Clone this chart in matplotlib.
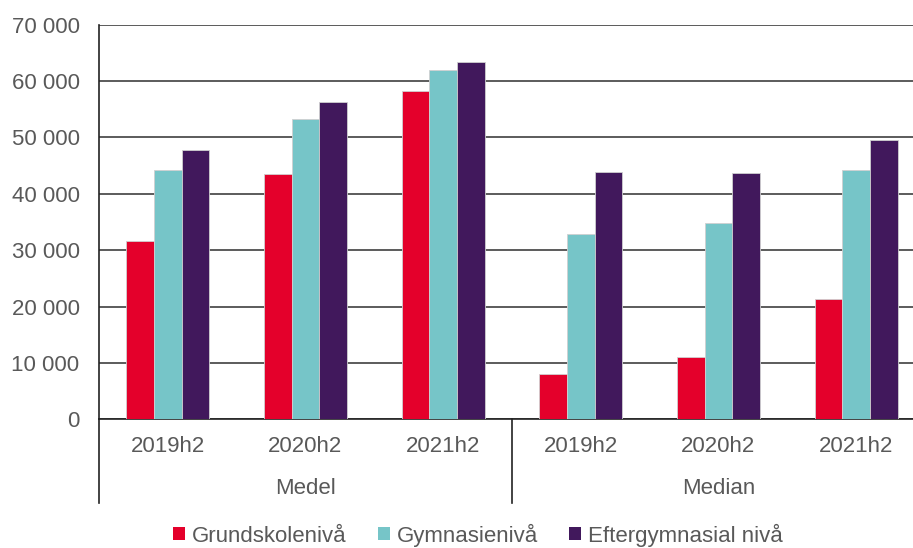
import matplotlib
matplotlib.use("Agg")
import matplotlib.pyplot as plt
import matplotlib.transforms as mtransforms
import numpy as np

plt.rcParams['font.family'] = ['Liberation Sans', 'DejaVu Sans']

periods = ["2019h2", "2020h2", "2021h2", "2019h2", "2020h2", "2021h2"]
groups = ["Medel", "Median"]
series = ["Grundskolenivå", "Gymnasienivå", "Eftergymnasial nivå"]
grund = [31700, 43500, 58300, 8000, 11000, 21400]
gymn = [44200, 53300, 61900, 32800, 34900, 44300]
efter = [47800, 56200, 63300, 43900, 43700, 49600]
colors = ["#E4002B", "#76C5C8", "#41185C"]
yticks = [0, 10000, 20000, 30000, 40000, 50000, 60000, 70000]

text_col = "#595959"
fs = 16

fig = plt.figure(figsize=(9.13, 5.48), dpi=100)
# plot area runs slightly past the right edge of the picture, like the original
ax = fig.add_axes([0.1084, 0.2349, 0.9047, 0.72])

x = np.arange(len(periods))
w = 0.201
for i, (vals, c, name) in enumerate(zip([grund, gymn, efter], colors, series)):
    ax.bar(x + (i - 1) * w, vals, width=w, color=c, edgecolor="#d0d0d0",
           linewidth=0.6, label=name, zorder=3)

ax.set_xlim(-0.5, len(periods) - 0.5)
ax.set_ylim(0, 70000)
ax.set_yticks(yticks)
ax.set_yticklabels([f"{v:,.0f}".replace(",", " ") for v in yticks])
ax.yaxis.grid(True, color="#404040", linewidth=1.2, zorder=0)
ax.set_axisbelow(True)
ax.tick_params(axis="y", length=0, pad=14, labelsize=fs, labelcolor=text_col)
ax.set_xticks([])

for s in ["top", "right"]:
    ax.spines[s].set_visible(False)
ax.spines["left"].set_color("#222222")
ax.spines["bottom"].set_color("#222222")
ax.spines["left"].set_linewidth(1.2)
ax.spines["bottom"].set_linewidth(1.2)

trans = mtransforms.blended_transform_factory(ax.transData, ax.transAxes)
for xi, lab in zip(x, periods):
    ax.text(xi, -0.07, lab, transform=trans, ha="center", va="center",
            fontsize=fs, color=text_col)
for gi, g in enumerate(groups):
    ax.text(gi * 3 + 1, -0.175, g, transform=trans, ha="center", va="center",
            fontsize=fs, color=text_col)

# group separators
for xs in [-0.5, 2.5]:
    ax.plot([xs, xs], [0, -0.212], transform=trans, color="#222222",
            linewidth=1.2, clip_on=False)

leg = fig.legend(loc="center", bbox_to_anchor=(478 / 913, 1 - 535 / 548),
                 ncol=3, frameon=False, fontsize=fs, handlelength=0.55,
                 handleheight=0.55, handletextpad=0.3, columnspacing=1.4,
                 borderaxespad=0)
for t in leg.get_texts():
    t.set_color(text_col)
for h in leg.legend_handles:
    h.set_edgecolor("none")

fig.savefig("out.png", dpi=100)
